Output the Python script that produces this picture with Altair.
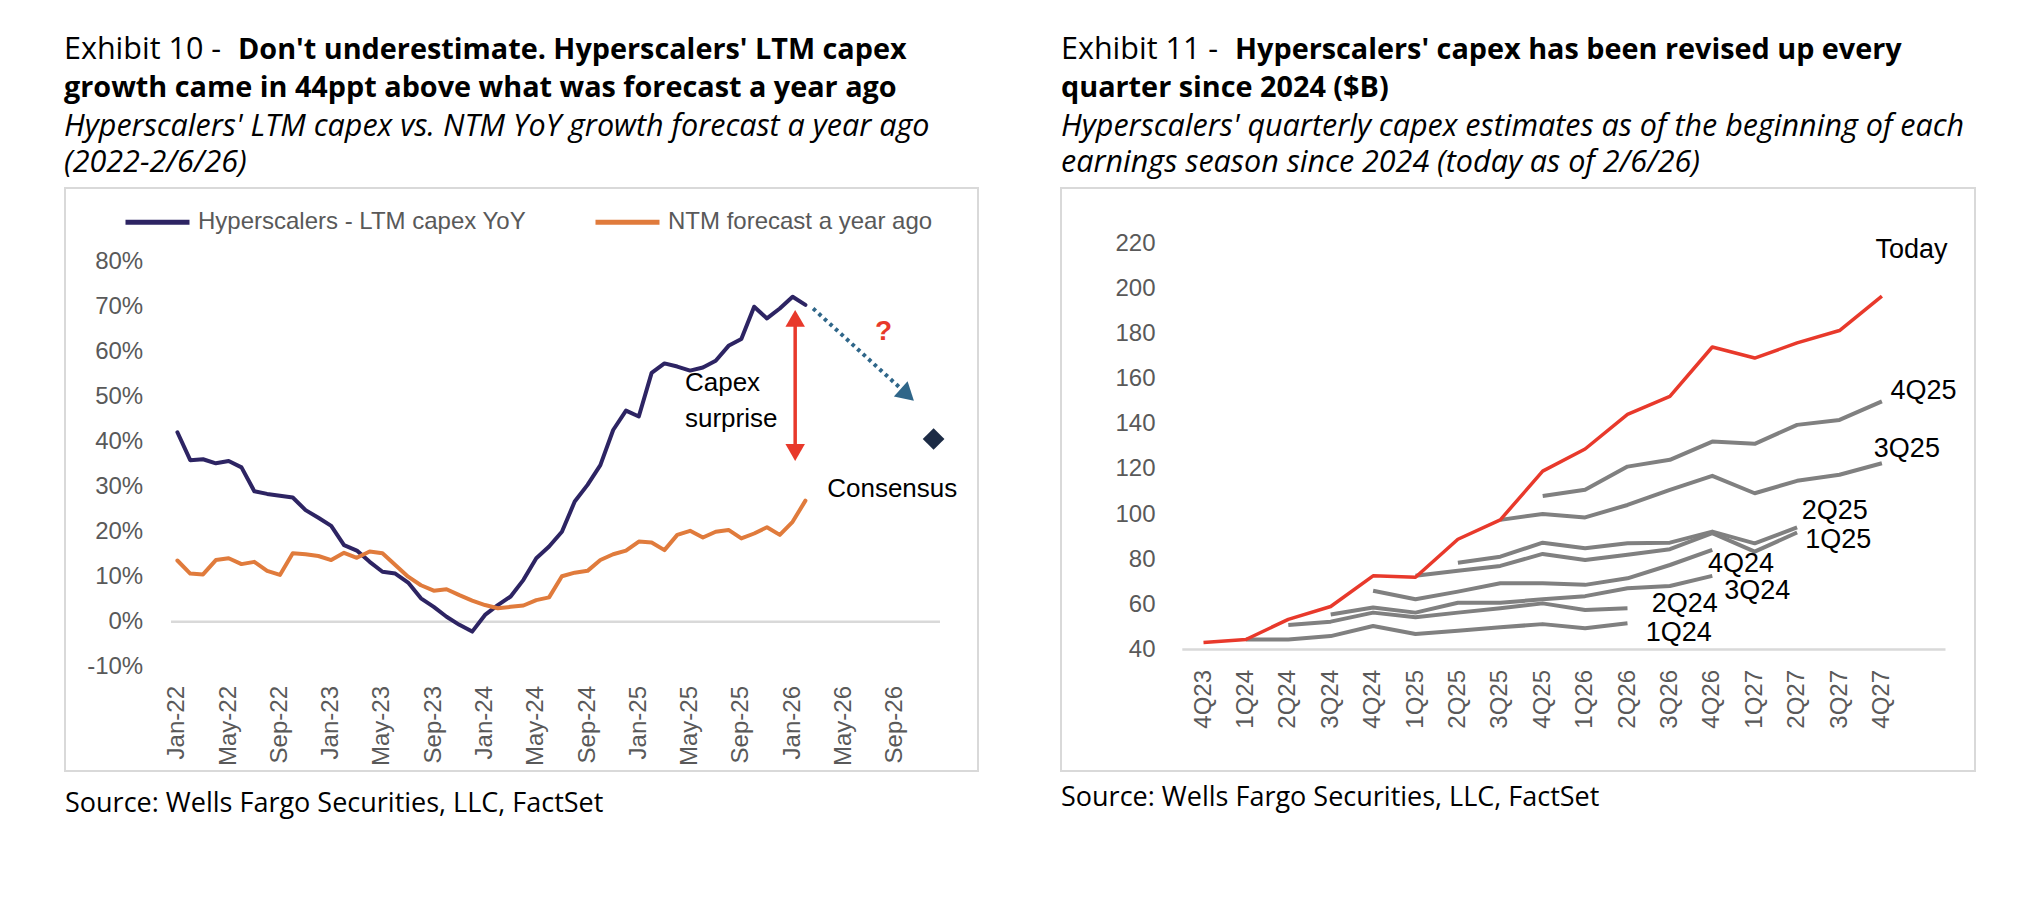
import json
import altair as alt
import pandas as pd

# ---------------- Exhibit 10 data ----------------
ltm_yoy = [42.1, 35.9, 36.1, 35.2, 35.7, 34.3, 29.0, 28.4, 28.0, 27.6,
           24.8, 23.1, 21.3, 17.0, 15.8, 13.3, 11.1, 10.7, 8.7, 5.2,
           3.3, 1.1, -0.7, -2.2, 1.5, 3.7, 5.6, 9.3, 14.1, 16.7,
           20.0, 26.7, 30.4, 34.8, 42.6, 46.9, 45.6, 55.3, 57.4, 56.7,
           55.8, 56.5, 58.0, 61.3, 62.8, 70.0, 67.4, 69.6, 72.2, 70.4]
ntm_forecast = [13.6, 10.7, 10.5, 13.7, 14.1, 12.8, 13.3, 11.3, 10.4, 15.2,
                15.0, 14.6, 13.7, 15.3, 14.2, 15.6, 15.2, 12.6, 10.0, 8.1,
                6.9, 7.2, 5.9, 4.7, 3.7, 3.0, 3.3, 3.6, 4.8, 5.4,
                10.1, 10.9, 11.3, 13.7, 15.0, 15.8, 17.8, 17.6, 15.9, 19.3,
                20.2, 18.7, 20.0, 20.4, 18.5, 19.6, 21.0, 19.3, 22.2, 26.9]
series10 = ["Hyperscalers - LTM capex YoY", "NTM forecast a year ago"]
month_ticks = ["Jan-22", "May-22", "Sep-22", "Jan-23", "May-23", "Sep-23",
               "Jan-24", "May-24", "Sep-24", "Jan-25", "May-25", "Sep-25",
               "Jan-26", "May-26", "Sep-26"]
month_tick_index = [0, 4, 8, 12, 16, 20, 24, 28, 32, 36, 40, 44, 48, 52, 56]
y10_ticks = [-10, 0, 10, 20, 30, 40, 50, 60, 70, 80]
consensus_month = [59]
consensus_value = [40.6]
# annotations (month index, value)
note_text = ["Capex", "surprise", "Consensus"]
note_m = [39.6, 39.6, 50.7]
note_v = [53.1, 45.0, 29.5]
surprise_m = 48.2
surprise_low, surprise_high = 37.6, 67.4
path_m = [49.6, 56.6]
path_v = [69.6, 51.4]
head_m, head_v = 56.95, 50.4
qmark_m, qmark_v = 55.1, 64.4

# ---------------- Exhibit 11 data ----------------
quarters = ["4Q23", "1Q24", "2Q24", "3Q24", "4Q24", "1Q25", "2Q25", "3Q25", "4Q25",
            "1Q26", "2Q26", "3Q26", "4Q26", "1Q27", "2Q27", "3Q27", "4Q27"]
today = [43.1, 44.4, 53.3, 59.0, 72.6, 72.0, 88.8, 97.4, 119.0,
         128.8, 144.1, 152.1, 174.0, 169.1, 175.8, 181.3, 196.5]
N = None
est_1q24 = [N, 44.4, 44.4, 45.9, 50.4, 46.8, 48.3, 49.8, 51.2, 49.4, 51.6, N, N, N, N, N, N]
est_2q24 = [N, N, 50.8, 52.3, 56.3, 54.2, 56.3, 58.2, 60.4, 57.5, 58.2, N, N, N, N, N, N]
est_3q24 = [N, N, N, 55.5, 58.6, 56.3, 60.7, 60.7, 62.2, 63.6, 67.1, 68.1, 72.6, N, N, N, N]
est_4q24 = [N, N, N, N, 66.0, 62.2, 65.6, 69.3, 69.3, 68.6, 71.5, 77.4, 84.1, N, N, N, N]
est_1q25 = [N, N, N, N, N, 72.6, 74.9, 77.0, 82.3, 79.6, 81.9, 84.4, 91.5, 83.3, 91.8, N, N]
est_2q25 = [N, N, N, N, N, N, 78.4, 81.1, 87.3, 84.8, 87.0, 87.3, 92.2, 87.0, 94.1, N, N]
est_3q25 = [N, N, N, N, N, N, N, 97.4, 100.0, 98.5, 104.0, 110.7, 116.9, 109.2, 114.7, 117.4, 122.5]
est_4q25 = [N, N, N, N, N, N, N, N, 108.0, 110.7, 121.0, 124.0, 132.1, 131.1, 139.5, 141.7, 149.9]
seasons = ["1Q24", "2Q24", "3Q24", "4Q24", "1Q25", "2Q25", "3Q25", "4Q25"]
estimates = [est_1q24, est_2q24, est_3q24, est_4q24, est_1q25, est_2q25, est_3q25, est_4q25]
y11_ticks = [40, 60, 80, 100, 120, 140, 160, 180, 200, 220]
label_text = ["Today", "4Q25", "3Q25", "2Q25", "1Q25", "4Q24", "3Q24", "2Q24", "1Q24"]
label_q = [15.85, 16.2, 15.81, 14.11, 14.19, 11.9, 12.28, 10.57, 10.43]
label_v = [217.1, 154.7, 128.7, 101.5, 88.5, 77.7, 66.0, 60.0, 47.1]

# ---------------- styles ----------------
NAVY = "#2D2463"
ORANGE = "#E07B3C"
RED = "#E8392B"
GRAY = "#808080"
ARROW_BLUE = "#2F6689"
DIAMOND = "#1C2B45"
FRAME = "#D9D9D9"
TICK = "#595959"
AX_FONT = "Liberation Sans"
T_FONT = "Open Sans"
T_REG = 30.5
T_BOLD = 28.8
T_ITAL = 30.5
SRC = 27

LW, LH = 1002, 880
RW, RH = 995, 880
RX0 = 1020


def text_layer(x, y, s, size, color="#000000", weight="normal", style="normal",
               font=T_FONT, align="left"):
    return alt.Chart(pd.DataFrame({"t": [s]})).mark_text(
        align=align, baseline="middle", font=font, fontSize=size,
        fontWeight=weight, fontStyle=style, color=color
    ).encode(x=alt.value(x), y=alt.value(y), text="t:N")


def block_layer(x, y_first_baseline, s, size, line_height, style="italic"):
    return alt.Chart(pd.DataFrame({"t": [s]})).mark_text(
        align="left", baseline="alphabetic", font=T_FONT, fontSize=size,
        fontStyle=style, color="#000000", lineBreak="\n", lineHeight=line_height
    ).encode(x=alt.value(x), y=alt.value(y_first_baseline), text="t:N")


def frame_layer(x1, y1, x2, y2):
    return alt.Chart(pd.DataFrame({"k": [0]})).mark_rect(
        filled=False, stroke=FRAME, strokeWidth=2
    ).encode(x=alt.value(x1), x2=alt.value(x2), y=alt.value(y1), y2=alt.value(y2))


# ================= Exhibit 10 =================
x10 = alt.Scale(domain=[-0.5, 59.5], range=[163, 932], nice=False, zero=False)
y10 = alt.Scale(domain=[-10, 80], range=[658.7, 253.7], nice=False, zero=False)
ax10y = alt.Axis(values=y10_ticks, labelExpr="datum.value + '%'",
                 labelFont=AX_FONT, labelFontSize=24, labelColor=TICK,
                 labelPadding=0, ticks=False, tickSize=0, domain=False, grid=False,
                 title=None, offset=-134.7, labelOverlap=False, labelAlign="right")


def X10(f="m"):
    return alt.X(f + ":Q", scale=x10, axis=None)


def Y10(f="v"):
    return alt.Y(f + ":Q", scale=y10, axis=ax10y)


df10 = pd.DataFrame({
    "m": list(range(len(ltm_yoy))) + list(range(len(ntm_forecast))),
    "v": ltm_yoy + ntm_forecast,
    "series": [series10[0]] * len(ltm_yoy) + [series10[1]] * len(ntm_forecast),
})

zero10 = alt.Chart(pd.DataFrame({"m": [-0.5], "m2": [59.5], "v": [0]})).mark_rule(
    color=FRAME, strokeWidth=2.5
).encode(x=X10(), x2="m2:Q", y=Y10())

xlab10 = alt.Chart(pd.DataFrame({"m": month_tick_index, "t": month_ticks})).mark_text(
    angle=270, align="right", baseline="middle", font=AX_FONT, fontSize=24, color=TICK
).encode(x=X10(), y=alt.value(678), text="t:N")

leg10 = alt.Legend(orient="none", legendX=115, legendY=179.5, direction="horizontal",
                   columns=2, columnPadding=58, symbolType="stroke", symbolSize=4096,
                   symbolStrokeWidth=5, labelFont=AX_FONT, labelFontSize=24,
                   labelColor=TICK, labelLimit=1000, labelOffset=6, title=None,
                   padding=0)

lines10 = alt.Chart(df10).mark_line(strokeWidth=4, strokeJoin="round", strokeCap="round").encode(
    x=X10(), y=Y10(),
    color=alt.Color("series:N", scale=alt.Scale(domain=series10, range=[NAVY, ORANGE]),
                    legend=leg10),
)

path10 = alt.Chart(pd.DataFrame({"m": path_m, "v": path_v})).mark_line(
    color=ARROW_BLUE, strokeWidth=4, strokeDash=[3.5, 4]
).encode(x=X10(), y=Y10())

head10 = alt.Chart(pd.DataFrame({"m": [head_m], "v": [head_v]})).mark_point(
    shape="triangle-right", angle=42, size=420, filled=True, color=ARROW_BLUE, opacity=1
).encode(x=X10(), y=Y10())

surprise_rule = alt.Chart(pd.DataFrame({"m": [surprise_m], "v": [surprise_low],
                                        "v2": [surprise_high]})).mark_rule(
    color=RED, strokeWidth=3.5
).encode(x=X10(), y=Y10(), y2="v2:Q")

surprise_heads = alt.Chart(pd.DataFrame({"m": [surprise_m, surprise_m],
                                         "v": [surprise_high, surprise_low],
                                         "s": ["triangle-up", "triangle-down"]})).mark_point(
    size=380, filled=True, color=RED, opacity=1
).encode(x=X10(), y=Y10(), shape=alt.Shape("s:N", scale=None))

consensus = alt.Chart(pd.DataFrame({"m": consensus_month, "v": consensus_value})).mark_point(
    shape="diamond", size=470, filled=True, color=DIAMOND, opacity=1
).encode(x=X10(), y=Y10())

notes10 = alt.Chart(pd.DataFrame({"m": note_m, "v": note_v, "t": note_text})).mark_text(
    align="left", baseline="middle", font=AX_FONT, fontSize=26, color="#000000"
).encode(x=X10(), y=Y10(), text="t:N")

qmark = alt.Chart(pd.DataFrame({"m": [qmark_m], "v": [qmark_v], "t": ["?"]})).mark_text(
    align="center", baseline="middle", font=AX_FONT, fontSize=28, fontWeight="bold", color=RED
).encode(x=X10(), y=Y10(), text="t:N")

left = alt.layer(
    zero10, frame_layer(57, 180, 970, 763), xlab10,
    lines10, path10, head10, surprise_rule, surprise_heads, consensus, notes10, qmark,
    text_layer(56, 42, "Exhibit 10 - ", T_REG),
    text_layer(230, 42, "Don't underestimate. Hyperscalers' LTM capex", T_BOLD, weight="bold"),
    text_layer(56, 80, "growth came in 44ppt above what was forecast a year ago", T_BOLD, weight="bold"),
    block_layer(56, 128, "Hyperscalers' LTM capex vs. NTM YoY growth forecast a year ago\n(2022-2/6/26)",
                T_ITAL, 36),
    text_layer(57, 796, "Source: Wells Fargo Securities, LLC, FactSet", SRC),
).properties(width=LW, height=LH)

# ================= Exhibit 11 =================
x11 = alt.Scale(domain=[-0.5, 17.5], range=[1182.3 - RX0, 1945.5 - RX0], nice=False, zero=False)
y11 = alt.Scale(domain=[40, 220], range=[641.4, 235.2], nice=False, zero=False)
ax11y = alt.Axis(values=y11_ticks, labelFont=AX_FONT, labelFontSize=24, labelColor=TICK,
                 labelPadding=0, ticks=False, tickSize=0, domain=False, grid=False,
                 title=None, offset=-(1155 - RX0), labelOverlap=False, labelAlign="right")


def X11(f="q"):
    return alt.X(f + ":Q", scale=x11, axis=None)


def Y11(f="v"):
    return alt.Y(f + ":Q", scale=y11, axis=ax11y)


base11 = alt.Chart(pd.DataFrame({"q": [-0.5], "q2": [17.5], "v": [40]})).mark_rule(
    color=FRAME, strokeWidth=2.5
).encode(x=X11(), x2="q2:Q", y=Y11())

xlab11 = alt.Chart(pd.DataFrame({"q": list(range(len(quarters))), "t": quarters})).mark_text(
    angle=270, align="right", baseline="middle", font=AX_FONT, fontSize=24, color=TICK
).encode(x=X11(), y=alt.value(662), text="t:N")

rows = []
for name, vals in zip(seasons, estimates):
    for qi, val in enumerate(vals):
        if val is not None:
            rows.append({"q": qi, "v": val, "season": name})
df_est = pd.DataFrame(rows)

est_lines = alt.Chart(df_est).mark_line(color=GRAY, strokeWidth=4, strokeJoin="round").encode(
    x=X11(), y=Y11(), detail="season:N")

today_line = alt.Chart(pd.DataFrame({"q": list(range(len(today))), "v": today})).mark_line(
    color=RED, strokeWidth=3.5, strokeJoin="round").encode(x=X11(), y=Y11())

labels11 = alt.Chart(pd.DataFrame({"q": label_q, "v": label_v, "t": label_text})).mark_text(
    align="left", baseline="middle", font=AX_FONT, fontSize=27, color="#000000"
).encode(x=X11(), y=Y11(), text="t:N")

right = alt.layer(
    base11, frame_layer(41, 180, 955, 763), xlab11,
    est_lines, today_line, labels11,
    text_layer(41, 42, "Exhibit 11 - ", T_REG),
    text_layer(215, 42, "Hyperscalers' capex has been revised up every", T_BOLD, weight="bold"),
    text_layer(41, 80, "quarter since 2024 ($B)", T_BOLD, weight="bold"),
    block_layer(41, 128, "Hyperscalers' quarterly capex estimates as of the beginning of each\n"
                "earnings season since 2024 (today as of 2/6/26)", T_ITAL, 36),
    text_layer(41, 790, "Source: Wells Fargo Securities, LLC, FactSet", SRC),
).properties(width=RW, height=RH)

chart = alt.hconcat(left, right, spacing=RX0 - 8 - LW).properties(
    padding=0, background="white"
).configure_view(stroke=None)

chart.save("out.html", embed_options={"renderer": "svg", "actions": False})
